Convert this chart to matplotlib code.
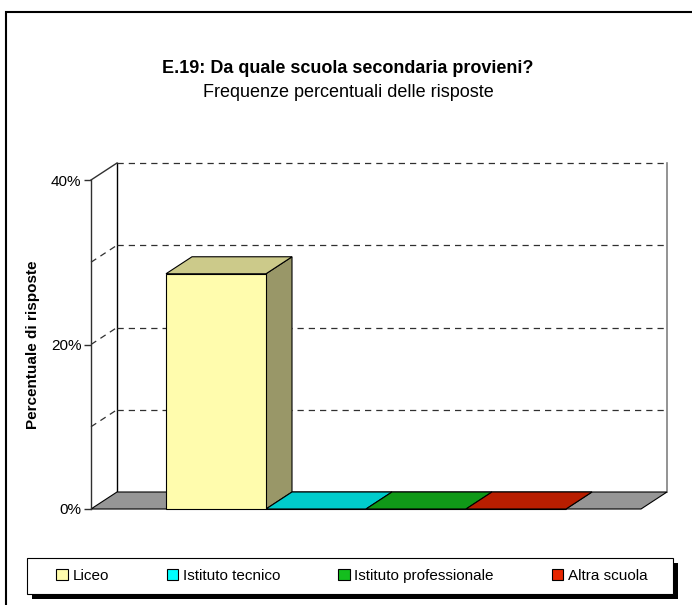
import matplotlib.pyplot as plt
from matplotlib.patches import Polygon, Rectangle, Patch
from matplotlib.colors import to_rgb

# dati
categorie = ['Liceo', 'Istituto tecnico', 'Istituto professionale', 'Altra scuola']
percentuali = [28.6, 0.0, 0.0, 0.0]
colori = ['#FFFCAD', '#00FFFF', '#14BE1E', '#E62600']
yticks = [0, 20, 40]
ytick_labels = ['0%', '20%', '40%']
griglia = [10, 20, 30, 40]

plt.rcParams['font.family'] = ['Liberation Sans', 'DejaVu Sans']

W, H = 692, 605
fig = plt.figure(figsize=(W / 100, H / 100), dpi=100)

# piano frontale del grafico 3D
ax = fig.add_axes([91 / W, 1 - 509 / H, 550 / W, 329 / H])
ax.set_xlim(0, 1)
ax.set_ylim(0, 40)
ax.patch.set_visible(False)
for s in ['top', 'right', 'bottom']:
    ax.spines[s].set_visible(False)
ax.spines['left'].set_linewidth(1.0)
ax.spines['left'].set_color('#303030')
ax.set_xticks([])
ax.set_yticks(yticks)
ax.set_yticklabels(ytick_labels, fontsize=11)
ax.tick_params(axis='y', length=5, width=1, color='#303030', pad=2)
ax.set_ylabel('Percentuale di risposte', fontsize=11, fontweight='bold')
ax.yaxis.set_label_coords(-0.092, 0.5)

# profondita' (in unita' dei dati)
dx = 26 / 550
dy = 17 / 329 * 40


def shade(c, f):
    r, g, b = to_rgb(c)
    return (r * f, g * f, b * f)


# pavimento
ax.add_patch(Polygon([(0, 0), (1, 0), (1 + dx, dy), (dx, dy)], closed=True,
                     facecolor='#969696', edgecolor='black', lw=0.8, zorder=1, clip_on=False))

# parete di fondo
ax.plot([dx, dx], [dy, 40 + dy], color='black', lw=1, zorder=0.5, clip_on=False)
ax.plot([1 + dx, 1 + dx], [dy, 40 + dy], color='#808080', lw=1.2, zorder=0.5, clip_on=False)
for v in griglia:
    ax.plot([dx, 1 + dx], [v + dy, v + dy], color='#303030', lw=0.9,
            ls=(0, (5, 4)), zorder=0.5, clip_on=False)
    if v < 40:
        ax.plot([0, dx], [v, v + dy], color='#303030', lw=0.9,
                ls=(0, (5, 4)), zorder=0.5, clip_on=False)
ax.plot([0, dx], [40, 40 + dy], color='#303030', lw=1, zorder=0.5, clip_on=False)

# barre (una categoria, quattro serie)
w = 1 / 5.5
lefts = [0.75 * w + i * w for i in range(len(categorie))]
for x, h, c in zip(lefts, percentuali, colori):
    ax.add_patch(Polygon([(x + w, 0), (x + w + dx, dy), (x + w + dx, h + dy), (x + w, h)],
                         closed=True, facecolor=shade(c, 0.6), edgecolor='black',
                         lw=0.8, zorder=2, clip_on=False))
    ax.add_patch(Polygon([(x, h), (x + w, h), (x + w + dx, h + dy), (x + dx, h + dy)],
                         closed=True, facecolor=shade(c, 0.8), edgecolor='black',
                         lw=0.8, zorder=2, clip_on=False))
ax.bar(lefts, percentuali, width=w, align='edge', color=colori,
       edgecolor='black', lw=0.8, zorder=3, clip_on=False)

# titoli
fig.text(348 / W, 1 - 73 / H, 'E.19: Da quale scuola secondaria provieni?',
         ha='center', va='baseline', fontsize=13, fontweight='bold')
fig.text(348 / W, 1 - 97 / H, 'Frequenze percentuali delle risposte',
         ha='center', va='baseline', fontsize=13)

# cornice esterna
fig.patches.append(Rectangle((6 / W, -0.1), 1.2, 1.1 - 12 / H, transform=fig.transFigure,
                             fill=False, edgecolor='black', lw=1.5))

# legenda: riquadro con ombra disegnato a parte
lx0, lx1, ly0, ly1 = 27, 673, 558, 594
fig.patches.append(Rectangle(((lx0 + 5) / W, 1 - (ly1 + 5) / H), (lx1 - lx0) / W,
                             (ly1 - ly0) / H, transform=fig.transFigure,
                             facecolor='black', edgecolor='none', zorder=3))
fig.patches.append(Rectangle((lx0 / W, 1 - ly1 / H), (lx1 - lx0) / W, (ly1 - ly0) / H,
                             transform=fig.transFigure, facecolor='white',
                             edgecolor='black', lw=0.8, zorder=4))
handles = [Patch(facecolor=c, edgecolor='black', lw=0.8, label=l)
           for c, l in zip(colori, categorie)]
leg = fig.legend(handles=handles, loc='center', bbox_to_anchor=(352 / W, 1 - 576 / H),
                 ncol=4, fontsize=11, frameon=False, columnspacing=3.8,
                 handlelength=0.75, handleheight=0.75, handletextpad=0.3)
leg.set_zorder(5)

fig.savefig('out.png', dpi=100)
